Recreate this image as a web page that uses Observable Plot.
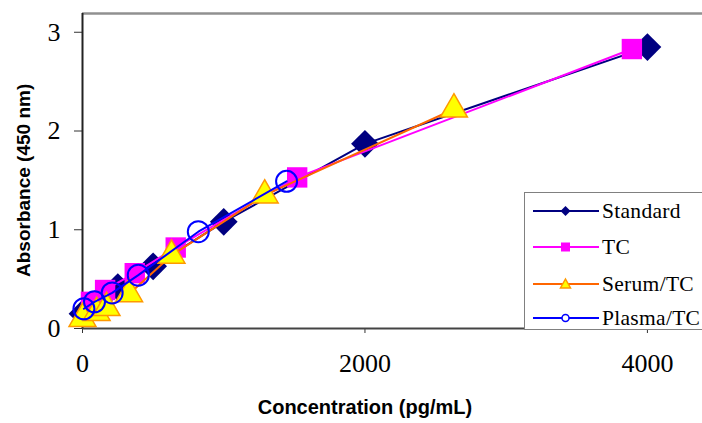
<!DOCTYPE html>
<html>
<head>
<meta charset="utf-8">
<script src="https://cdn.jsdelivr.net/npm/d3@7"></script>
<script src="https://cdn.jsdelivr.net/npm/@observablehq/plot@0.6"></script>
<style>
  html, body { margin: 0; padding: 0; background: #fff; }
  #wrap { position: relative; width: 702px; height: 423px; overflow: hidden; }
  #legend { position: absolute; left: 524px; top: 192px; width: 190px; height: 138px;
            border: 1px solid #808080; background: #fff; box-sizing: border-box; }
  .row { position: absolute; left: 0; height: 30px; display: flex; align-items: center; }
  .row svg { display: block; margin-left: 8px; }
  .row span { font-family: "Liberation Serif", "Times New Roman", serif; font-size: 21.5px;
              letter-spacing: 0.3px; color: #000; margin-left: 3px; white-space: nowrap; }
</style>
</head>
<body>
<div id="wrap"></div>
<script>
// ---- data ----
const seriesNames = ["Standard", "TC", "Serum/TC", "Plasma/TC"];

const standardX = [0, 62.5, 125, 250, 500, 1000, 2000, 4000];
const standardY = [0.15, 0.22, 0.30, 0.42, 0.63, 1.08, 1.87, 2.85];

const tcX = [60, 160, 370, 660, 1520, 3890];
const tcY = [0.27, 0.39, 0.56, 0.82, 1.53, 2.83];

const serumX = [0, 100, 170, 330, 630, 1290, 2630];
const serumY = [0.10, 0.16, 0.21, 0.35, 0.74, 1.35, 2.22];

const plasmaX = [10, 85, 210, 395, 820, 1445];
const plasmaY = [0.20, 0.27, 0.36, 0.54, 0.98, 1.49];

const xTicks = [0, 2000, 4000];
const yTicks = [0, 1, 2, 3];

const xTitle = "Concentration (pg/mL)";
const yTitle = "Absorbance (450 nm)";

// ---- build tables ----
const toRows = (xs, ys) => xs.map((x, i) => ({x, y: ys[i]}));
const standard = toRows(standardX, standardY);
const tc = toRows(tcX, tcY);
const serum = toRows(serumX, serumY);
const plasma = toRows(plasmaX, plasmaY);

const navy = "#000080", magenta = "#FF00FF", orange = "#FF6600", blue = "#0000FF";
const yellow = "#FFFF00", triEdge = "#FF9900";

const xMax = 4390, yMax = 3.19;

const chart = Plot.plot({
  width: 702,
  height: 423,
  marginLeft: 82,
  marginRight: 0,
  marginTop: 13,
  marginBottom: 95,
  style: {background: "#fff", overflow: "visible"},
  x: {domain: [0, xMax]},
  y: {domain: [0, yMax]},
  marks: [
    Plot.ruleY([yMax], {stroke: "#909090", strokeWidth: 2.5}),
    Plot.axisX({ticks: xTicks, tickSize: 5, tickPadding: 20, tickFormat: d => String(d),
      fontSize: 26, fontFamily: "Liberation Serif", letterSpacing: 2, stroke: "#333", label: null}),
    Plot.axisY({ticks: yTicks, tickSize: 8, tickPadding: 14, tickFormat: d => String(d),
      fontSize: 26, fontFamily: "Liberation Serif", stroke: "#333", label: null}),
    Plot.ruleY([0], {stroke: "#444", strokeWidth: 2}),
    Plot.ruleX([0], {stroke: "#222", strokeWidth: 2}),
    // Standard
    Plot.line(standard, {x: "x", y: "y", stroke: navy, strokeWidth: 2}),
    Plot.dot(standard, {x: "x", y: "y", symbol: "diamond2", r: 12.5, fill: navy, stroke: navy, strokeWidth: 0}),
    // TC
    Plot.line(tc, {x: "x", y: "y", stroke: magenta, strokeWidth: 2}),
    Plot.dot(tc, {x: "x", y: "y", symbol: "square", r: 11.5, fill: magenta, stroke: magenta, strokeWidth: 0}),
    // Serum/TC
    Plot.line(serum, {x: "x", y: "y", stroke: orange, strokeWidth: 2}),
    Plot.dot(serum, {x: "x", y: "y", symbol: "triangle", r: 10, fill: yellow, stroke: triEdge, strokeWidth: 1.5}),
    // Plasma/TC
    Plot.line(plasma, {x: "x", y: "y", stroke: blue, strokeWidth: 2}),
    Plot.dot(plasma, {x: "x", y: "y", symbol: "circle", r: 10.5, fill: "none", stroke: blue, strokeWidth: 2}),
    // axis titles
    Plot.text([xTitle], {x: () => 2000, frameAnchor: "bottom", dy: 85, text: d => d,
      fontSize: 20, fontWeight: "bold", fontFamily: "Liberation Sans, Arial, sans-serif", fill: "#000"}),
    Plot.text([yTitle], {y: () => 1.5, frameAnchor: "left", dx: -59, rotate: -90, textAnchor: "middle", text: d => d,
      fontSize: 19, fontWeight: "bold", fontFamily: "Liberation Sans, Arial, sans-serif", fill: "#000"})
  ]
});

const wrap = document.getElementById("wrap");
wrap.appendChild(chart);

// ---- legend ----
const legend = document.createElement("div");
legend.id = "legend";
const rowsTop = [3, 39, 76, 110];
const sym = {
  "Standard": `<polygon points="32.5,4 37.5,9 32.5,14 27.5,9" fill="${navy}"/>`,
  "TC": `<rect x="28" y="4.5" width="9" height="9" fill="${magenta}"/>`,
  "Serum/TC": `<polygon points="32.5,4 37.5,13 27.5,13" fill="${yellow}" stroke="${triEdge}" stroke-width="1.5"/>`,
  "Plasma/TC": `<circle cx="32.5" cy="9" r="3.5" fill="#fff" stroke="${blue}" stroke-width="1.5"/>`
};
const lineColor = {"Standard": navy, "TC": magenta, "Serum/TC": orange, "Plasma/TC": blue};
seriesNames.forEach((name, i) => {
  const row = document.createElement("div");
  row.className = "row";
  row.style.top = rowsTop[i] + "px";
  row.innerHTML = `<svg width="66" height="18"><line x1="0" y1="9" x2="66" y2="9" stroke="${lineColor[name]}" stroke-width="2"/>${sym[name]}</svg><span>${name}</span>`;
  legend.appendChild(row);
});
wrap.appendChild(legend);
</script>
</body>
</html>
